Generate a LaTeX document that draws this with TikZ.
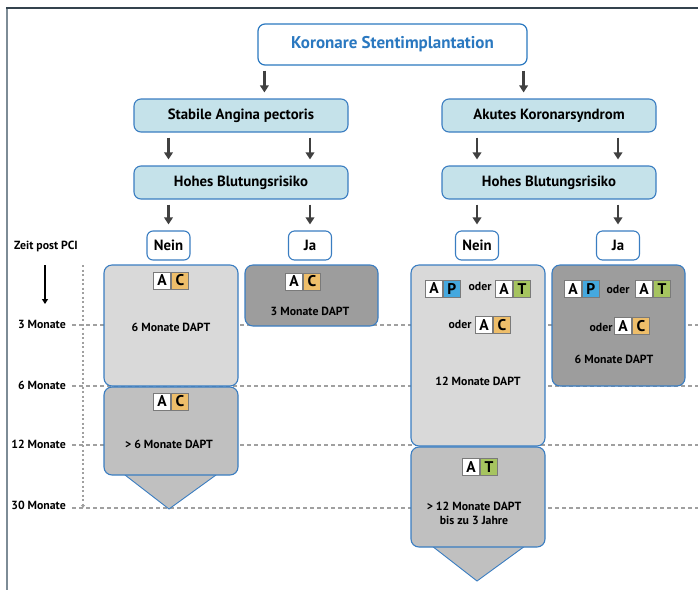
\documentclass[tikz,border=0pt]{standalone}
\usepackage{fontspec}
\setmainfont{PT Sans}
\usetikzlibrary{arrows.meta,positioning}
\definecolor{boxblue}{HTML}{3A7DC1}
\definecolor{titleblue}{HTML}{2A78C0}
\definecolor{lblue}{HTML}{C5E2EA}
\definecolor{lgray}{HTML}{D9D9D9}
\definecolor{mgray}{HTML}{C0C0C0}
\definecolor{dgray}{HTML}{9D9D9D}
\definecolor{corange}{HTML}{EEBE6A}
\definecolor{pblue}{HTML}{45A8DE}
\definecolor{tgreen}{HTML}{A6C45F}
\definecolor{arrgray}{HTML}{404040}
\definecolor{framedark}{HTML}{34434E}
\definecolor{framelight}{HTML}{7D8C96}
\definecolor{gridgray}{HTML}{A0A0A0}
\definecolor{sqgray}{HTML}{7A7A7A}
% badge: name, centre, letter, colour
\newcommand\badge[4]{%
  \node[sq, fill=white, anchor=east] (#1a) at #2 {A};
  \node[sq, fill=#4, right=0pt of #1a] (#1b) {#3};}
\begin{document}
\begin{tikzpicture}[x=1pt, y=-1pt,
    head/.style = {draw=titleblue, line width=1.2pt, rounded corners=7pt, fill=white, text=titleblue,
                   font=\bfseries\fontsize{17}{19}\selectfont},
    group/.style = {draw=boxblue, line width=1.1pt, rounded corners=7pt, fill=lblue,
                    font=\bfseries\fontsize{14.8}{16}\selectfont},
    yesno/.style = {draw=boxblue, line width=1.1pt, rounded corners=6pt, fill=white,
                    minimum width=43pt, minimum height=29pt, font=\bfseries\fontsize{14.8}{16}\selectfont},
    period/.style = {draw=boxblue, line width=1.1pt, rounded corners=8pt, inner sep=0pt},
    txt/.style = {font=\bfseries\fontsize{11.8}{14}\selectfont, align=center},
    tick/.style = {anchor=east, inner sep=0pt, font=\bfseries\fontsize{11.8}{13}\selectfont},
    sq/.style = {draw=sqgray, line width=0.8pt, minimum size=17pt, inner sep=0pt,
                 font=\bfseries\fontsize{15.5}{15.5}\selectfont},
    arr/.style = {draw=arrgray, line width=2.6pt, -{Triangle[length=7pt,width=8.5pt]},
                  shorten <=5pt, shorten >=6pt},
    grid/.style = {draw=gridgray, line width=1.1pt, dash pattern=on 3.5pt off 3.5pt}]
\useasboundingbox (0,0) rectangle (698,590);

% frame
\draw[framelight, line width=2pt] (7,8) -- (7,590);
\draw[framedark, line width=1.6pt] (6,8) -- (698,8);

% decision tree
\node[head, minimum width=269pt, minimum height=41pt] (title) at (392.5,44.5) {Koronare Stentimplantation};
\node[group, minimum width=214pt, minimum height=33pt] (stab) at (241,115.5) {Stabile Angina pectoris};
\node[group, minimum width=214pt, minimum height=33pt] (akut) at (549,115.5) {Akutes Koronarsyndrom};
\node[group, minimum width=214pt, minimum height=33pt] (hohL) at (241,182.5) {Hohes Blutungsrisiko};
\node[group, minimum width=214pt, minimum height=33pt] (hohR) at (549,182.5) {Hohes Blutungsrisiko};
\node[yesno] (neinL) at (168.5,245.5) {Nein};
\node[yesno] (jaL) at (310,245.5) {Ja};
\node[yesno] (neinR) at (477,245.5) {Nein};
\node[yesno] (jaR) at (618,245.5) {Ja};

\draw[arr] ([xshift=7pt]title.south west) -- ([xshift=7pt]title.south west |- stab.north);
\draw[arr] ([xshift=-4pt]title.south east) -- ([xshift=-4pt]title.south east |- akut.north);
\draw[arr] (stab.south -| neinL) -- (hohL.north -| neinL);
\draw[arr] (stab.south -| jaL) -- (hohL.north -| jaL);
\draw[arr] (akut.south -| neinR) -- (hohR.north -| neinR);
\draw[arr] (akut.south -| jaR) -- (hohR.north -| jaR);
\draw[arr] (hohL.south -| neinL) -- (neinL.north);
\draw[arr] (hohL.south -| jaL) -- (jaL.north);
\draw[arr] (hohR.south -| neinR) -- (neinR.north);
\draw[arr] (hohR.south -| jaR) -- (jaR.north);

% time axis
\node[txt] (zeit) at (46,246) {Zeit post PCI};
\coordinate (ztop) at (45,265);
\coordinate (zbot) at (45,304);
\draw[black, line width=1.3pt, -{Triangle[length=5pt,width=6pt]}] (ztop) -- (zbot);
\node[tick] (m3) at (66,324) {3 Monate};
\node[tick] (m6) at (66,385) {6 Monate};
\node[tick] (m12) at (66,444) {12 Monate};
\node[tick] (m30) at (66,505) {30 Monate};
\coordinate (rt) at (698,0);
\coordinate (vtop) at (83,265);
\foreach \m/\y in {m3/325, m6/386, m12/445, m30/508}
  \draw[grid] ([xshift=6pt]\m.east |- 0,\y) -- (rt |- 0,\y);
\draw[grid, dash pattern=on 2pt off 2.5pt, -{Triangle[length=3pt,width=4pt]}] (vtop) -- (vtop |- 0,508);

% arrow heads of the open-ended periods
\draw[boxblue, line width=0.9pt, fill=mgray] (125,470) -- (125,475) -- (169,509) -- (216,475) -- (216,470);
\draw[boxblue, line width=0.9pt, fill=mgray] (432,540) -- (432,546) -- (477,581) -- (525,546) -- (525,540);

% periods
\node[period, fill=lgray, minimum width=134pt, minimum height=121pt] (pL1) at (171,325.5) {};
\node[period, fill=mgray, minimum width=134pt, minimum height=88pt] (pL2) at (171,431) {};
\node[period, fill=dgray, minimum width=133pt, minimum height=61pt] (pJ1) at (311.5,295.5) {};
\node[period, fill=lgray, minimum width=134pt, minimum height=181pt] (pR1) at (478,355.5) {};
\node[period, fill=mgray, minimum width=134pt, minimum height=100pt] (pR2) at (478,497) {};
\node[period, fill=dgray, minimum width=133pt, minimum height=121pt] (pJ2) at (618.5,325.5) {};

% contents
\badge{bL1}{(171,280.5)}{C}{corange}
\node[txt] (tL1) at (171,327) {6 Monate DAPT};
\badge{bL2}{(171,401.5)}{C}{corange}
\node[txt] (tL2) at (169,444) {> 6 Monate DAPT};
\badge{bJ1}{(303,281.5)}{C}{corange}
\node[txt] (tJ1) at (310,311) {3 Monate DAPT};

\badge{bR1}{(443,288.5)}{P}{pblue}
\node[txt] (oR1) at (480,286) {oder};
\badge{bR2}{(513,289)}{T}{tgreen}
\node[txt] (oR2) at (460,324) {oder};
\badge{bR3}{(493,325)}{C}{corange}
\node[txt] (tR1) at (478,381) {12 Monate DAPT};
\badge{bR4}{(480,467)}{T}{tgreen}
\node[txt, font=\bfseries\fontsize{11.8}{14}\selectfont] (tR2) at (474,513) {> 12 Monate DAPT\\bis zu 3 Jahre};

\badge{bJ2}{(582,289)}{P}{pblue}
\node[txt] (oJ1) at (618,289) {oder};
\badge{bJ3}{(653,289)}{T}{tgreen}
\node[txt] (oJ2) at (601,327) {oder};
\badge{bJ4}{(632,326)}{C}{corange}
\node[txt] (tJ2) at (614,359) {6 Monate DAPT};
\end{tikzpicture}
\end{document}
